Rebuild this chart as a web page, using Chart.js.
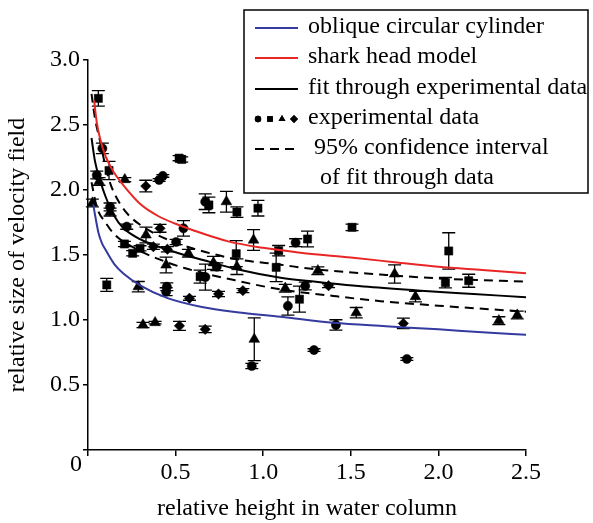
<!DOCTYPE html>
<html>
<head>
<meta charset="utf-8">
<script src="https://cdn.jsdelivr.net/npm/chart.js@4.4.0/dist/chart.umd.min.js"></script>
<style>
  html, body { margin: 0; padding: 0; background: #fff; }
  #wrap { width: 593px; height: 523px; }
</style>
</head>
<body>
<div id="wrap"><canvas id="velChart" width="593" height="523"></canvas></div>
<script>
// model curves
const cylX = [0.03, 0.04, 0.06, 0.08, 0.1, 0.15, 0.2, 0.3, 0.45, 0.65, 0.85, 1.1, 1.4, 1.7, 2.0, 2.25, 2.5];
const cylY = [1.89, 1.81, 1.67, 1.59, 1.54, 1.43, 1.36, 1.265, 1.17, 1.10, 1.06, 1.025, 0.978, 0.952, 0.928, 0.905, 0.887];

const sharkX = [0.035, 0.05, 0.07, 0.1, 0.15, 0.2, 0.3, 0.4, 0.5, 0.6, 0.8, 1.0, 1.2, 1.5, 1.75, 2.0, 2.25, 2.5];
const sharkY = [2.69, 2.52, 2.39, 2.26, 2.13, 2.04, 1.89, 1.80, 1.74, 1.69, 1.605, 1.555, 1.52, 1.48, 1.445, 1.41, 1.385, 1.36];

const fitX = [0.02, 0.04, 0.07, 0.1, 0.15, 0.2, 0.3, 0.4, 0.55, 0.7, 0.85, 1.1, 1.3, 1.6, 1.9, 2.2, 2.5];
const fitY = [2.40, 2.22, 2.07, 1.95, 1.80, 1.71, 1.62, 1.565, 1.50, 1.445, 1.39, 1.325, 1.295, 1.255, 1.225, 1.20, 1.175];

const upX = [0.02, 0.04, 0.07, 0.1, 0.13, 0.18, 0.23, 0.3, 0.46, 0.6, 0.84, 1.1, 1.3, 1.67, 2.0, 2.5];
const upY = [2.74, 2.55, 2.37, 2.18, 2.04, 1.90, 1.81, 1.73, 1.615, 1.55, 1.47, 1.425, 1.39, 1.35, 1.32, 1.295];

const loX = [0.02, 0.05, 0.1, 0.15, 0.27, 0.4, 0.55, 0.84, 1.1, 1.4, 1.67, 2.0, 2.5];
const loY = [2.06, 1.87, 1.75, 1.66, 1.55, 1.47, 1.40, 1.305, 1.235, 1.185, 1.145, 1.11, 1.064];

// experimental data, one set per marker (value and +/- error)
const circX = [0.082, 0.05, 0.406, 0.427, 0.669, 0.126, 0.545, 0.221, 0.503, 0.67, 0.45, 0.446, 1.185, 1.24, 1.141, 0.935, 1.29, 1.415, 1.82, 0.735];
const circY = [2.32, 2.115, 2.077, 2.108, 1.91, 1.87, 1.705, 1.718, 1.60, 1.33, 1.256, 1.218, 1.595, 1.262, 1.108, 0.646, 0.769, 0.962, 0.70, 1.41];
const circE = [0.04, 0.03, 0.01, 0.01, 0.06, 0.03, 0.06, 0.02, 0.02, 0.1, 0.03, 0.03, 0.03, 0.03, 0.07, 0.02, 0.01, 0.04, 0.01, 0.03];

const sqX = [0.059, 0.12, 0.52, 0.535, 0.69, 0.85, 0.97, 1.507, 1.253, 1.088, 0.846, 1.074, 1.207, 0.208, 0.255, 0.297, 0.64, 0.107, 2.059, 2.04, 2.173];
const sqY = [2.705, 2.15, 2.245, 2.235, 1.885, 1.83, 1.86, 1.713, 1.623, 1.533, 1.51, 1.405, 1.16, 1.585, 1.513, 1.551, 1.333, 1.27, 1.531, 1.287, 1.302];
const sqE = [0.06, 0.07, 0.02, 0.02, 0.06, 0.04, 0.06, 0.025, 0.06, 0.04, 0.1, 0.11, 0.1, 0.02, 0.02, 0.02, 0.05, 0.05, 0.14, 0.04, 0.05];

const triX = [0.025, 0.063, 0.21, 0.79, 0.126, 0.945, 0.85, 0.331, 0.446, 0.573, 0.716, 0.287, 0.314, 0.383, 1.312, 1.126, 0.949, 1.531, 1.75, 1.869, 2.345, 2.45];
const triY = [1.90, 2.065, 2.08, 1.91, 1.83, 1.615, 1.41, 1.654, 1.423, 1.513, 1.44, 1.256, 0.962, 0.98, 1.379, 1.244, 0.852, 1.056, 1.354, 1.18, 0.995, 1.038];
const triE = [0.03, 0.03, 0.015, 0.08, 0.03, 0.08, 0.06, 0.06, 0.06, 0.03, 0.05, 0.04, 0.02, 0.01, 0.03, 0.03, 0.165, 0.04, 0.07, 0.04, 0.03, 0.03];

const diaX = [0.33, 0.411, 0.373, 0.453, 0.745, 0.884, 0.579, 0.522, 0.669, 1.373, 1.80];
const diaY = [2.03, 1.705, 1.564, 1.544, 1.20, 1.226, 1.167, 0.955, 0.928, 1.264, 0.974];
const diaE = [0.045, 0.03, 0.02, 0.02, 0.02, 0.015, 0.015, 0.035, 0.025, 0.015, 0.04];

const xTicks = [0, 0.5, 1.0, 1.5, 2.0, 2.5];
const yTicks = [0, 0.5, 1.0, 1.5, 2.0, 2.5, 3.0];

const BLUE = 'rgb(52, 58, 158)';
const RED = 'rgb(232, 38, 38)';
const FONT = '"Liberation Serif", "Times New Roman", serif';

function toPts(xs, ys) {
    return xs.map((x, i) => ({ x: x, y: ys[i] }));
}

function curve(xs, ys, color, dash) {
    return {
        type: 'line',
        data: toPts(xs, ys),
        borderColor: color,
        borderWidth: 2,
        borderDash: dash || [],
        pointRadius: 0,
        fill: false,
        cubicInterpolationMode: 'monotone'
    };
}

function markers(xs, ys, errs, style, r) {
    return {
        type: 'scatter',
        data: toPts(xs, ys),
        errs: errs,
        showLine: false,
        pointStyle: style,
        pointRadius: r,
        pointBackgroundColor: '#000',
        pointBorderColor: '#000',
        pointBorderWidth: 0.5
    };
}

// vertical error bars with caps
const errorBars = {
    id: 'errorBars',
    beforeDatasetsDraw(chart) {
        const ctx = chart.ctx;
        const xs = chart.scales.x, ys = chart.scales.y;
        ctx.save();
        ctx.strokeStyle = '#000';
        ctx.lineWidth = 1.3;
        chart.data.datasets.forEach(ds => {
            if (!ds.errs) return;
            ds.data.forEach((p, i) => {
                const e = ds.errs[i];
                const px = xs.getPixelForValue(p.x);
                const top = ys.getPixelForValue(p.y + e);
                const bot = ys.getPixelForValue(p.y - e);
                ctx.beginPath();
                ctx.moveTo(px, top); ctx.lineTo(px, bot);
                ctx.moveTo(px - 6.5, top); ctx.lineTo(px + 6.5, top);
                ctx.moveTo(px - 6.5, bot); ctx.lineTo(px + 6.5, bot);
                ctx.stroke();
            });
        });
        ctx.restore();
    }
};

// boxed legend in the top right, and the shared "0" at the origin
const legendBox = {
    id: 'legendBox',
    afterDraw(chart) {
        const ctx = chart.ctx;
        ctx.save();
        ctx.fillStyle = '#fff';
        ctx.fillRect(244, 10, 344, 183);
        ctx.strokeStyle = '#000';
        ctx.lineWidth = 1.5;
        ctx.strokeRect(244, 10, 344, 183);

        const rows = [
            { y: 27, color: BLUE, text: 'oblique circular cylinder' },
            { y: 57, color: RED, text: 'shark head model' },
            { y: 88, color: '#000', text: 'fit through experimental data' },
            { y: 118, marks: true, text: 'experimental data' },
            { y: 148, dash: true, text: ' 95% confidence interval' },
            { y: 178, text: '  of fit through data' }
        ];
        ctx.font = '24px ' + FONT;
        ctx.textBaseline = 'middle';
        rows.forEach(r => {
            if (r.color || r.dash) {
                ctx.beginPath();
                ctx.strokeStyle = r.color || '#000';
                ctx.lineWidth = 2;
                ctx.setLineDash(r.dash ? [9, 6] : []);
                ctx.moveTo(255, r.y + 1);
                ctx.lineTo(298, r.y + 1);
                ctx.stroke();
                ctx.setLineDash([]);
            }
            if (r.marks) {
                const styles = ['circle', 'rect', 'triangle', 'rectRot'];
                styles.forEach((s, i) => {
                    ctx.fillStyle = '#000';
                    Chart.helpers.drawPoint(ctx, { pointStyle: s, radius: s === 'circle' ? 3.2 : 4, borderWidth: 0 }, 258 + i * 12, r.y + 1);
                    ctx.fill();
                });
            }
            ctx.fillStyle = '#000';
            ctx.fillText(r.text, 308, r.y);
        });

        ctx.textAlign = 'center';
        ctx.fillText('0', 76, 465);
        ctx.restore();
    }
};

const ctx = document.getElementById('velChart').getContext('2d');
Chart.defaults.font.family = FONT;
Chart.defaults.font.size = 24;
Chart.defaults.color = '#000';

new Chart(ctx, {
    type: 'scatter',
    data: {
        datasets: [
            curve(cylX, cylY, BLUE),
            curve(sharkX, sharkY, RED),
            curve(fitX, fitY, '#000'),
            curve(upX, upY, '#000', [9, 6]),
            curve(loX, loY, '#000', [9, 6]),
            markers(circX, circY, circE, 'circle', 4.6),
            markers(sqX, sqY, sqE, 'rect', 5.8),
            markers(triX, triY, triE, 'triangle', 6.2),
            markers(diaX, diaY, diaE, 'rectRot', 5.2)
        ]
    },
    options: {
        responsive: false,
        animation: false,
        layout: { padding: { left: 0, right: 67, top: 60, bottom: 0 } },
        plugins: {
            legend: { display: false },
            tooltip: { enabled: false }
        },
        scales: {
            x: {
                type: 'linear',
                min: 0,
                max: 2.5,
                afterFit(s) { s.height = 73; },
                afterBuildTicks(s) { s.ticks = xTicks.map(v => ({ value: v })); },
                border: { color: '#000', width: 1.5 },
                grid: { drawOnChartArea: false, tickLength: 6, color: '#000', lineWidth: 1.5 },
                ticks: {
                    padding: 2,
                    callback: v => (v === 0 ? '' : v.toFixed(1))
                },
                title: {
                    display: true,
                    text: 'relative height in water column',
                    padding: { top: 0, bottom: 0 }
                }
            },
            y: {
                type: 'linear',
                min: 0,
                max: 3.0,
                afterFit(s) { s.width = 88; },
                afterBuildTicks(s) { s.ticks = yTicks.map(v => ({ value: v })); },
                border: { color: '#000', width: 1.5 },
                grid: { drawOnChartArea: false, tickLength: 5, color: '#000', lineWidth: 1.5 },
                ticks: {
                    padding: 3,
                    callback: v => (v === 0 ? '' : v.toFixed(1))
                },
                title: {
                    display: true,
                    text: 'relative size of velocity field',
                    padding: { top: 3, bottom: 0 }
                }
            }
        }
    },
    plugins: [errorBars, legendBox]
});
</script>
</body>
</html>
